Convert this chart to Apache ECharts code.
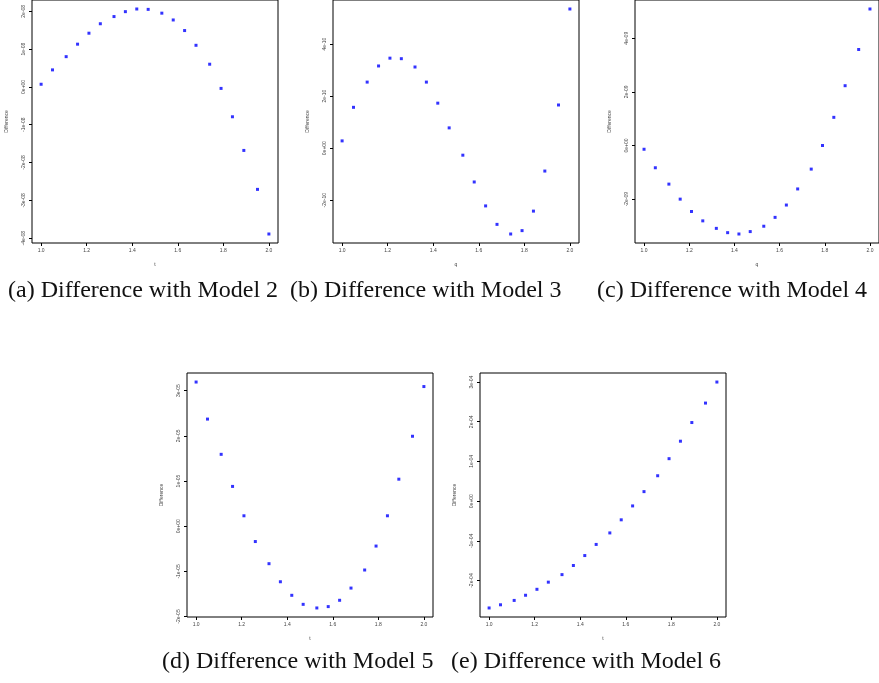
<!DOCTYPE html>
<html>
<head>
<meta charset="utf-8">
<script src="https://cdn.jsdelivr.net/npm/echarts@6/dist/echarts.min.js"></script>
<style>
  html, body { margin: 0; padding: 0; background: #fff; }
  #main { width: 879px; height: 683px; }
</style>
</head>
<body>
<div id="main"></div>
<script>
// grid points (same for every panel)
var xs = [1.00, 1.05, 1.11, 1.16, 1.21, 1.26, 1.32, 1.37, 1.42, 1.47,
          1.53, 1.58, 1.63, 1.68, 1.74, 1.79, 1.84, 1.89, 1.95, 2.00];
var xTicks = [1.0, 1.2, 1.4, 1.6, 1.8, 2.0];

// differences
var diffModel2 = [0.07e-8, 0.45e-8, 0.80e-8, 1.13e-8, 1.42e-8, 1.67e-8, 1.86e-8, 1.99e-8, 2.06e-8, 2.05e-8,
                  1.95e-8, 1.77e-8, 1.49e-8, 1.10e-8, 0.60e-8, -0.04e-8, -0.79e-8, -1.68e-8, -2.71e-8, -3.89e-8];
var diffModel3 = [0.28e-10, 1.57e-10, 2.54e-10, 3.16e-10, 3.46e-10, 3.44e-10, 3.12e-10, 2.54e-10, 1.73e-10, 0.78e-10,
                  -0.27e-10, -1.30e-10, -2.22e-10, -2.93e-10, -3.30e-10, -3.17e-10, -2.42e-10, -0.88e-10, 1.66e-10, 5.35e-10];
var diffModel4 = [-0.14e-9, -0.83e-9, -1.44e-9, -2.00e-9, -2.46e-9, -2.81e-9, -3.09e-9, -3.25e-9, -3.30e-9, -3.21e-9,
                  -3.01e-9, -2.68e-9, -2.22e-9, -1.62e-9, -0.88e-9, 0.00e-9, 1.05e-9, 2.23e-9, 3.58e-9, 5.09e-9];
var diffModel5 = [3.19e-5, 2.37e-5, 1.59e-5, 0.88e-5, 0.23e-5, -0.34e-5, -0.83e-5, -1.23e-5, -1.53e-5, -1.73e-5,
                  -1.81e-5, -1.78e-5, -1.64e-5, -1.37e-5, -0.97e-5, -0.44e-5, 0.23e-5, 1.04e-5, 1.99e-5, 3.09e-5];
var diffModel6 = [-2.69e-4, -2.61e-4, -2.50e-4, -2.37e-4, -2.22e-4, -2.04e-4, -1.85e-4, -1.62e-4, -1.37e-4, -1.09e-4,
                  -0.80e-4, -0.47e-4, -0.12e-4, 0.24e-4, 0.64e-4, 1.07e-4, 1.51e-4, 1.98e-4, 2.47e-4, 3.00e-4];

var yTicks2 = [-4e-8, -3e-8, -2e-8, -1e-8, 0, 1e-8, 2e-8];
var yTicks3 = [-2e-10, 0, 2e-10, 4e-10];
var yTicks4 = [-2e-9, 0, 2e-9, 4e-9];
var yTicks5 = [-2e-5, -1e-5, 0, 1e-5, 2e-5, 3e-5];
var yTicks6 = [-2e-4, -1e-4, 0, 1e-4, 2e-4, 3e-4];

var captions = ["(a) Difference with Model 2", "(b) Difference with Model 3", "(c) Difference with Model 4",
                "(d) Difference with Model 5", "(e) Difference with Model 6"];

var panels = [
  { data: diffModel2, ticks: yTicks2, xname: "t", left: 32, top: -1 },
  { data: diffModel3, ticks: yTicks3, xname: "q", left: 333, top: -1 },
  { data: diffModel4, ticks: yTicks4, xname: "q", left: 635, top: -1 },
  { data: diffModel5, ticks: yTicks5, xname: "t", left: 187, top: 373 },
  { data: diffModel6, ticks: yTicks6, xname: "t", left: 480, top: 373 }
];
var capPos = [[8, 292], [290, 292], [597, 292], [162, 663], [451, 663]];

// R style labels: 2e-08, 0e+00
function sci(v) {
  if (v === 0) return "0e+00";
  var s = v.toExponential(0);
  var m = s.split("e");
  var e = parseInt(m[1], 10);
  var es = (e < 0 ? "-" : "+") + (Math.abs(e) < 10 ? "0" : "") + Math.abs(e);
  return m[0] + "e" + es;
}

var grids = [], xAxes = [], yAxes = [], series = [], graphics = [];
var labelStyle = { fontFamily: "Liberation Sans", fontSize: 5, color: "#444" };

panels.forEach(function (p, i) {
  var lo = Math.min.apply(null, p.data), hi = Math.max.apply(null, p.data);
  var pad = (hi - lo) * 0.04;
  grids.push({ left: p.left, top: p.top, width: 246, height: 244,
               show: true, borderColor: "#000", borderWidth: 1, backgroundColor: "transparent" });
  xAxes.push({
    type: "value", gridIndex: i, min: 0.96, max: 2.04,
    name: p.xname, nameLocation: "middle", nameGap: 19,
    nameTextStyle: labelStyle,
    axisLine: { show: false, onZero: false },
    splitLine: { show: false },
    axisTick: { show: true, length: 3, customValues: xTicks, lineStyle: { color: "#000" } },
    axisLabel: { customValues: xTicks, margin: 5, fontFamily: "Liberation Sans", fontSize: 5, color: "#444",
                 formatter: function (v) { return v.toFixed(1); } }
  });
  yAxes.push({
    type: "value", gridIndex: i, min: lo - pad, max: hi + pad,
    name: "Difference", nameLocation: "middle", nameGap: 23, nameRotate: 90,
    nameTextStyle: labelStyle,
    axisLine: { show: false, onZero: false },
    splitLine: { show: false },
    axisTick: { show: true, length: 3, customValues: p.ticks, lineStyle: { color: "#000" } },
    axisLabel: { customValues: p.ticks, rotate: 90, margin: 6, fontFamily: "Liberation Sans", fontSize: 5, color: "#444",
                 formatter: sci }
  });
  series.push({
    type: "scatter", xAxisIndex: i, yAxisIndex: i,
    symbol: "rect", symbolSize: 3,
    itemStyle: { color: "#0000ff" },
    data: xs.map(function (x, k) { return [x, p.data[k]]; }),
    silent: true
  });
  graphics.push({
    type: "text", left: capPos[i][0], top: capPos[i][1] - 13,
    style: { text: captions[i], font: "24px 'Liberation Serif'", fill: "#111" }
  });
});

var myChart = echarts.init(document.getElementById("main"));
myChart.setOption({
  animation: false,
  backgroundColor: "#fff",
  grid: grids,
  xAxis: xAxes,
  yAxis: yAxes,
  series: series,
  graphic: graphics
});
</script>
</body>
</html>
